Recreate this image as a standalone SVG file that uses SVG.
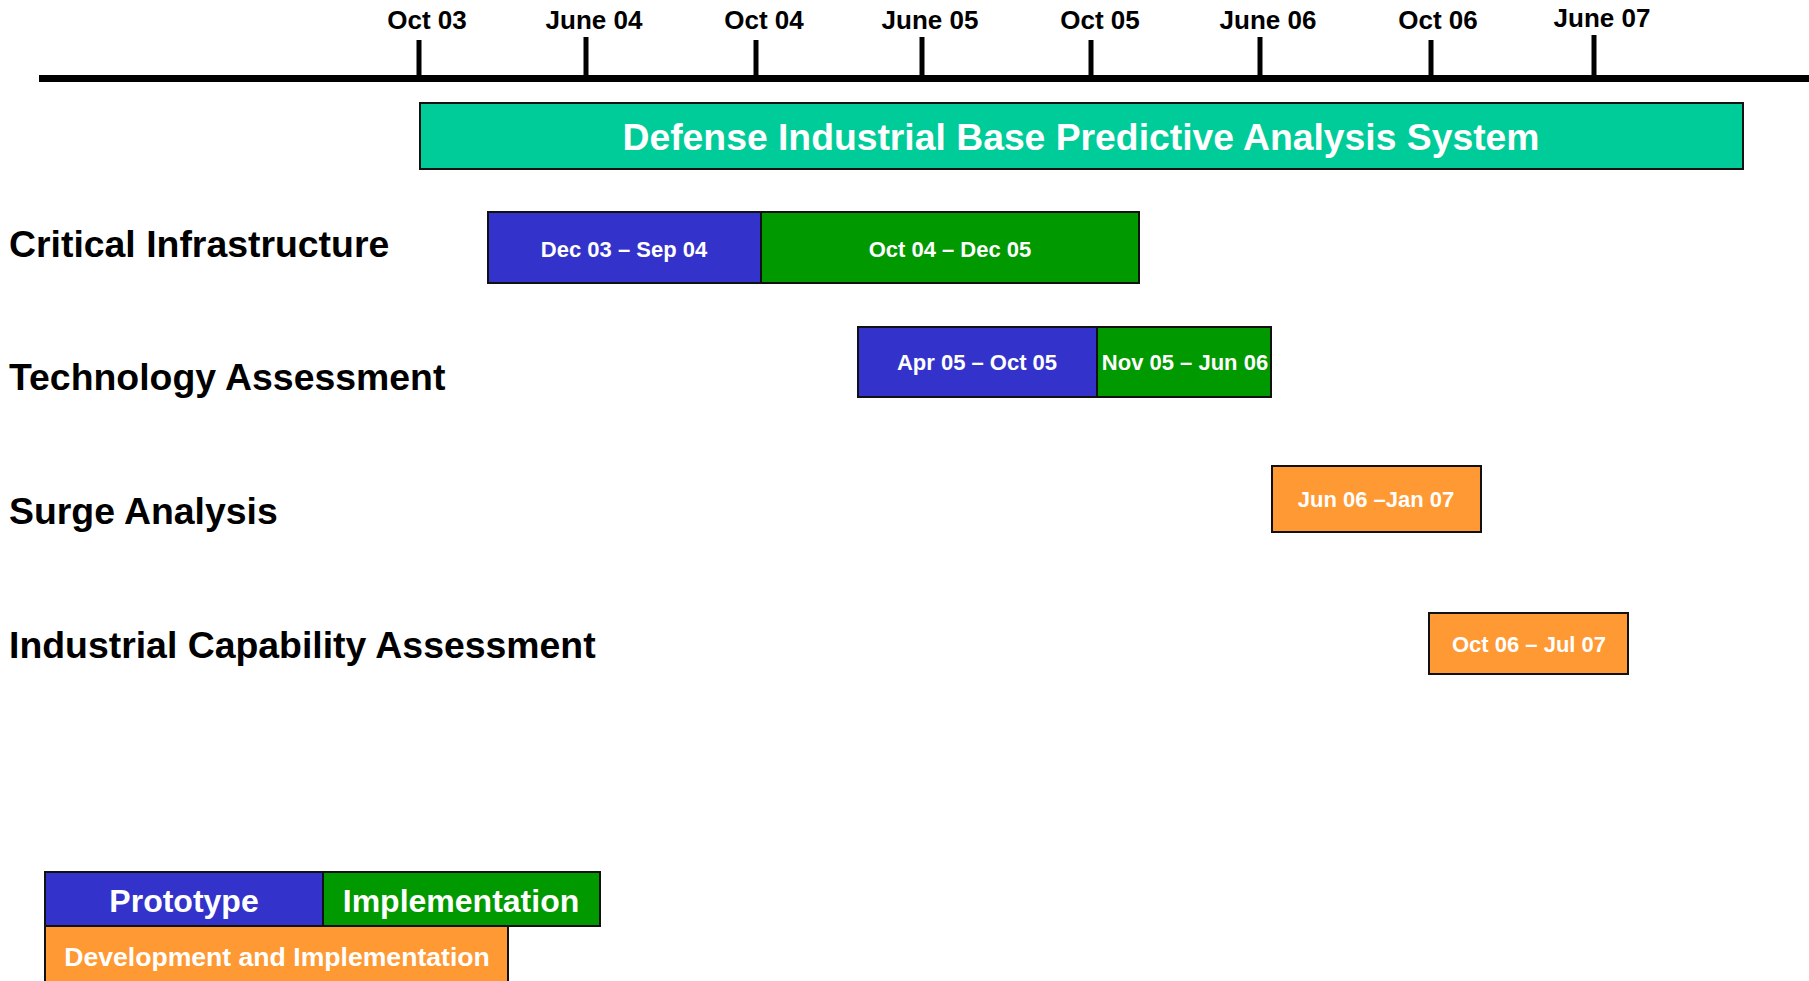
<svg xmlns="http://www.w3.org/2000/svg" width="1809" height="981" viewBox="0 0 1809 981">
<style>
text{font-family:"Liberation Sans",Arial,sans-serif;font-weight:bold;text-anchor:middle}
.tick{stroke:#000;stroke-width:5}
.tl{font-size:26px;fill:#000}
.rl{font-size:37.4px;fill:#000;text-anchor:start}
.bar{stroke:#111;stroke-width:2}
.bt{font-size:22px;fill:#fff}
.blue{fill:#3333CC}.green{fill:#009900}.orange{fill:#FF9933}.teal{fill:#00CC99}
</style>
<rect width="1809" height="981" fill="#fff"/>
<g id="timeline">
<line x1="39" y1="78.5" x2="1809" y2="78.5" stroke="#000" stroke-width="7"/>
<line class="tick" x1="419" y1="40" x2="419" y2="78"/>
<line class="tick" x1="586" y1="37" x2="586" y2="78"/>
<line class="tick" x1="756" y1="40" x2="756" y2="78"/>
<line class="tick" x1="922" y1="37" x2="922" y2="78"/>
<line class="tick" x1="1091" y1="40" x2="1091" y2="78"/>
<line class="tick" x1="1260" y1="37" x2="1260" y2="78"/>
<line class="tick" x1="1431" y1="40" x2="1431" y2="78"/>
<line class="tick" x1="1594" y1="35" x2="1594" y2="78"/>
<text class="tl" x="427" y="29">Oct 03</text>
<text class="tl" x="594" y="29">June 04</text>
<text class="tl" x="764" y="29">Oct 04</text>
<text class="tl" x="930" y="29">June 05</text>
<text class="tl" x="1100" y="29">Oct 05</text>
<text class="tl" x="1268" y="29">June 06</text>
<text class="tl" x="1438" y="29">Oct 06</text>
<text class="tl" x="1602" y="27">June 07</text>
</g>
<g id="system">
<rect class="bar teal" x="420" y="103" width="1323" height="66"/>
<text x="1081" y="150" style="font-size:37.3px;fill:#fff">Defense Industrial Base Predictive Analysis System</text>
</g>
<g id="critical">
<text class="rl" x="9" y="257">Critical Infrastructure</text>
<rect class="bar blue" x="488" y="212" width="273" height="71"/>
<rect class="bar green" x="761" y="212" width="378" height="71"/>
<text class="bt" x="624" y="257">Dec 03 – Sep 04</text>
<text class="bt" x="950" y="257">Oct 04 – Dec 05</text>
</g>
<g id="technology">
<text class="rl" x="9" y="390">Technology Assessment</text>
<rect class="bar blue" x="858" y="327" width="239" height="70"/>
<rect class="bar green" x="1097" y="327" width="174" height="70"/>
<text class="bt" x="977" y="370">Apr 05 – Oct 05</text>
<text class="bt" x="1185" y="370">Nov 05 – Jun 06</text>
</g>
<g id="surge">
<text class="rl" x="9" y="524">Surge Analysis</text>
<rect class="bar orange" x="1272" y="466" width="209" height="66"/>
<text class="bt" x="1376" y="507">Jun 06 –Jan 07</text>
</g>
<g id="industrial">
<text class="rl" x="9" y="658">Industrial Capability Assessment</text>
<rect class="bar orange" x="1429" y="613" width="199" height="61"/>
<text class="bt" x="1529" y="652">Oct 06 – Jul 07</text>
</g>
<g id="legend">
<rect class="bar blue" x="45" y="872" width="278" height="54"/>
<rect class="bar green" x="323" y="872" width="277" height="54"/>
<rect class="bar orange" x="45" y="926" width="463" height="60"/>
<text x="184" y="912" style="font-size:32px;fill:#fff">Prototype</text>
<text x="461" y="912" style="font-size:32px;fill:#fff">Implementation</text>
<text x="277" y="966" style="font-size:26.6px;fill:#fff">Development and Implementation</text>
</g>
</svg>
